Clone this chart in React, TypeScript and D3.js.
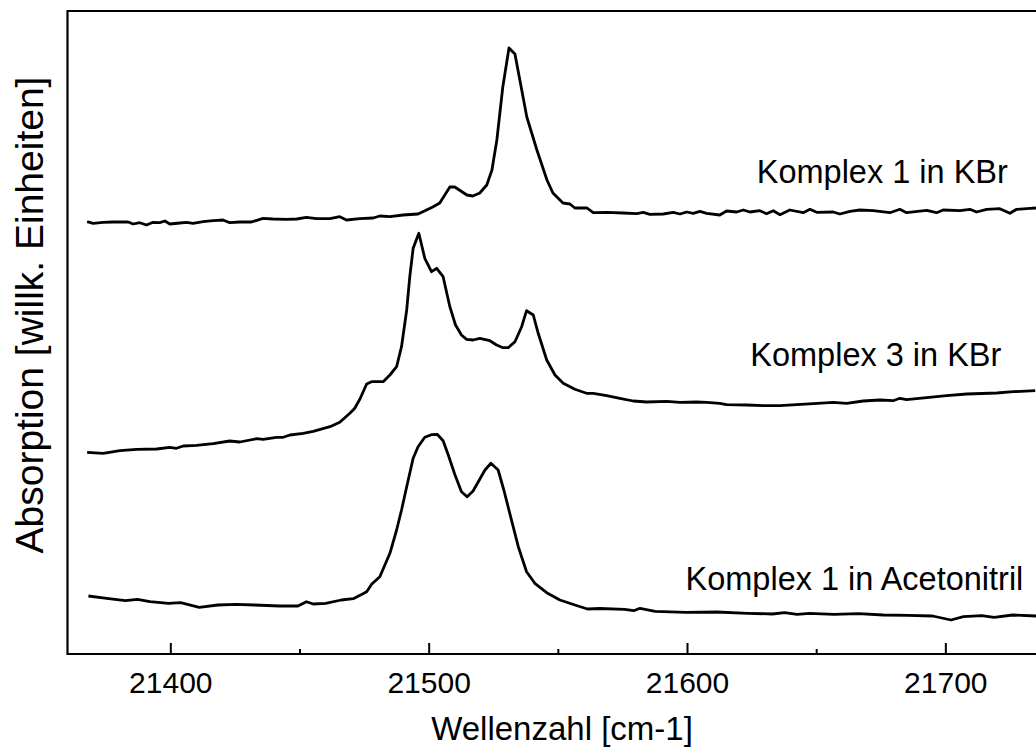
import React from "react";
import * as d3 from "d3";

// Wavenumbers [cm-1] and absorption (arbitrary units, stacked offsets included)
const kbr1Wave = [21367.6,21369.9,21373.8,21377.7,21383.5,21385.4,21388.0,21390.6,21393.1,21395.7,21397.7,21399.6,21403.5,21406.1,21408.6,21412.5,21416.4,21420.2,21422.8,21426.7,21431.2,21435.7,21439.6,21444.8,21448.7,21452.5,21456.4,21461.6,21465.4,21468.0,21473.2,21478.3,21480.9,21484.8,21489.9,21495.7,21501.4,21504.1,21508.0,21509.9,21514.6,21516.9,21519.6,21522.3,21524.3,21526.2,21528.5,21530.9,21533.2,21535.1,21537.8,21541.7,21545.6,21547.9,21551.8,21554.5,21556.4,21561.1,21563.5,21568.7,21575.1,21580.3,21582.9,21585.4,21590.6,21594.5,21597.1,21599.7,21602.2,21604.8,21607.4,21612.5,21615.1,21619.0,21621.6,21624.2,21628.0,21630.6,21633.2,21635.8,21639.6,21644.8,21647.4,21650.0,21656.4,21659.0,21662.9,21666.7,21671.9,21678.4,21682.2,21684.8,21692.6,21696.4,21699.0,21705.5,21709.3,21711.9,21715.8,21720.9,21724.8,21727.4,21732.6,21734.9];
const kbr1Abs = [432.3,430.7,431.7,432,432,430,431.3,429,431.7,431.3,433,430,431,431.7,430.7,432.3,433.3,434,431.3,432,432,435.7,435,434.7,435,436.7,435.3,435.3,437.3,434,435.3,436,438,437.3,439,440,447,451,467,467,459,458,461,469,484,514,567,606,600,574,537,504,474,461,451,450,446,446,441.3,441.7,441,440.3,441.7,439.7,440,441.7,440,442,440.7,442.7,440.7,439,443,442,444,442,443.3,440.3,443.3,439.3,444,441.3,444.7,441.7,442,440,442.7,444,443.3,441.3,444.7,441.3,443.7,441.3,444,443.3,444.7,442,444.7,445.3,440.7,444.7,445.7,446];

const kbr3Wave = [21367.6,21373.8,21380.3,21386.7,21394.5,21399.6,21402.2,21404.8,21409.9,21416.4,21422.8,21426.7,21433.2,21435.7,21440.9,21443.5,21446.1,21451.2,21455.1,21461.6,21465.4,21469.3,21471.2,21473.2,21475.8,21477.7,21482.2,21484.8,21487.4,21489.3,21491.3,21492.5,21493.8,21496.0,21498.3,21500.9,21502.9,21505.4,21508.0,21510.2,21512.5,21514.5,21517.0,21519.6,21523.5,21526.1,21528.6,21530.6,21533.2,21535.8,21537.7,21540.3,21542.2,21545.5,21548.7,21551.9,21556.4,21560.9,21563.5,21568.7,21573.8,21579.0,21584.2,21591.9,21597.1,21603.5,21607.4,21612.5,21615.1,21622.9,21629.3,21635.8,21642.2,21648.7,21656.4,21661.6,21668.0,21674.5,21679.6,21682.2,21684.8,21692.6,21700.3,21708.1,21719.7,21726.1,21734.6];
const kbr3Abs = [201.7,200.7,203.3,204.7,205,206.7,205.7,208,208.7,210.3,213,212,215.3,214.7,216.7,216.7,219,220.7,222.7,227.3,231.7,240.7,245.7,255,270,272.3,272.3,279,287.3,307.3,344,377.3,405.7,420.7,395.7,382.3,385.7,377.3,347.3,329,319,314.7,314,315.7,313.3,309,306.3,306.3,312.3,327.3,343.3,339,320.7,294,279,270.7,264.7,260.7,260.7,258.3,255.7,253,252,252.7,251.7,252,251.7,250.7,249.3,249,248.3,248.3,249.3,250.3,251.7,250.7,253,254,253.3,255.7,254.3,256.3,258.3,260,261,262.3,263.3];

const acnWave = [21368.1,21375.2,21382.4,21387.1,21391.9,21399.1,21403.8,21411.0,21418.2,21425.3,21432.4,21442.0,21449.2,21452.5,21455.1,21459.9,21466.0,21470.6,21474.2,21475.8,21477.8,21480.9,21484.8,21487.4,21489.3,21491.3,21493.8,21495.7,21498.3,21500.9,21503.1,21505.4,21507.4,21510.0,21512.5,21514.7,21517.0,21521.6,21523.9,21526.7,21528.9,21531.2,21534.5,21537.7,21540.9,21545.5,21550.6,21556.4,21561.3,21566.1,21575.6,21579.2,21581.6,21587.5,21599.4,21611.3,21623.3,21632.8,21637.6,21642.4,21647.2,21656.7,21666.2,21675.8,21685.3,21694.9,21702.0,21706.8,21713.9,21718.7,21725.9,21734.9];
const acnAbs = [58,55.7,53.3,54.7,52.3,50.7,51.3,46.7,49,49.7,49,48,48,52.3,50,50.7,54,55.3,60,62.3,70,77.3,100.7,124,144,167.3,195.7,207.3,216.7,219.3,219.7,213.3,199,179,162.3,157.3,163,184,190.7,184,164,140.7,107.3,82.3,70.7,61.3,54,49,45,45.5,44.7,43.3,45.7,42.7,41.7,42,40.7,40,41.3,39.7,40.7,39.7,40.3,39,38.7,38,34,37.3,38.3,36.7,39,38];

const seriesNames = ["Komplex 1 in KBr", "Komplex 3 in KBr", "Komplex 1 in Acetonitril"];
const labelAbs = [471, 288, 64];
const labelEndWave = [21724, 21721.5, 21730];

const majorTicks = [21400, 21500, 21600, 21700];
const minorTicks = [21450, 21550, 21650];
const xDomain = [21360, 21734.9];
const yDomain = [0, 643];

export default function App() {
  const W = 1036, H = 751;
  const left = 67.5, right = 1036, top = 11, bottom = 654;
  const x = d3.scaleLinear().domain(xDomain).range([left, right]);
  const y = d3.scaleLinear().domain(yDomain).range([bottom, top]);
  const line = d3.line<[number, number]>().x(d => x(d[0])).y(d => y(d[1]));
  const series = [
    d3.zip(kbr1Wave, kbr1Abs) as [number, number][],
    d3.zip(kbr3Wave, kbr3Abs) as [number, number][],
    d3.zip(acnWave, acnAbs) as [number, number][],
  ];
  const font = "'Liberation Sans', Arial, Helvetica, sans-serif";
  return (
    <svg width={W} height={H} style={{ position: "absolute", left: 0, top: 0, background: "#fff" }} fontFamily={font}>
      <rect x={0} y={0} width={W} height={H} fill="#fff" />
      {series.map((s, i) => (
        <path key={i} d={line(s) || ""} fill="none" stroke="#000" strokeWidth={2.8} strokeLinejoin="round" />
      ))}
      <path d={`M${right},${top}H${left}V${bottom}H${right}`} fill="none" stroke="#000" strokeWidth={2.2} />
      {majorTicks.map(t => (
        <g key={t}>
          <line x1={x(t)} x2={x(t)} y1={bottom} y2={bottom - 11} stroke="#000" strokeWidth={2} />
          <text x={x(t)} y={693} fontSize={30} textAnchor="middle" fill="#000">{t}</text>
        </g>
      ))}
      {minorTicks.map(t => (
        <line key={t} x1={x(t)} x2={x(t)} y1={bottom} y2={bottom - 5} stroke="#000" strokeWidth={2} />
      ))}
      {seriesNames.map((n, i) => (
        <text key={n} x={x(labelEndWave[i])} y={y(labelAbs[i])} fontSize={32.5} textAnchor="end" fill="#000">{n}</text>
      ))}
      <text x={562} y={740} fontSize={33} textAnchor="middle" fill="#000">Wellenzahl [cm-1]</text>
      <text transform={`translate(43,${315}) rotate(-90)`} fontSize={39} textAnchor="middle" fill="#000">Absorption [willk. Einheiten]</text>
    </svg>
  );
}
